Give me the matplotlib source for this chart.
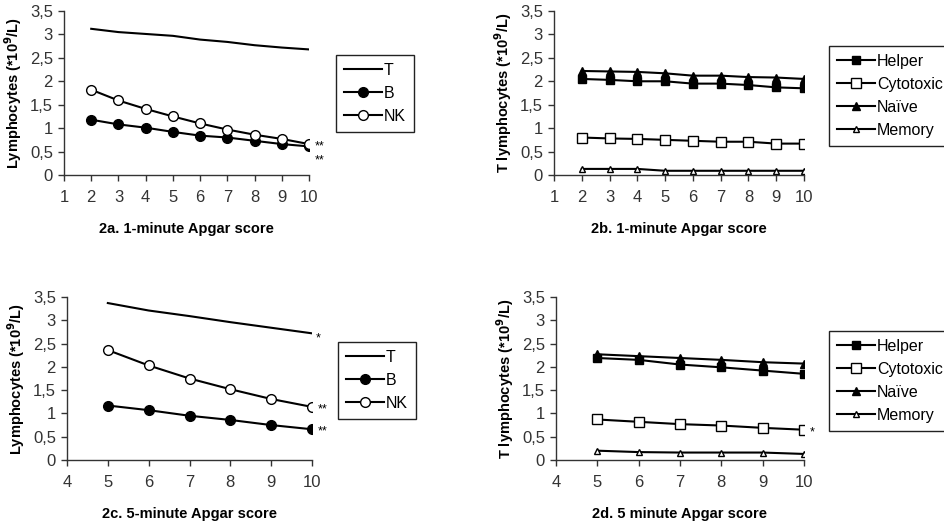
import matplotlib
matplotlib.use('Agg')
import matplotlib.pyplot as plt
from matplotlib.ticker import FuncFormatter

plt.rcParams['font.family'] = ['Liberation Sans', 'DejaVu Sans']

# 1-minute Apgar, all lymphocytes
apgar1 = [2, 3, 4, 5, 6, 7, 8, 9, 10]
t1 = [3.12, 3.05, 3.01, 2.97, 2.89, 2.84, 2.77, 2.72, 2.68]
b1 = [1.18, 1.08, 1.01, 0.92, 0.84, 0.80, 0.73, 0.66, 0.61]
nk1 = [1.82, 1.59, 1.41, 1.25, 1.10, 0.97, 0.86, 0.77, 0.66]

# 1-minute Apgar, T subsets
helper1 = [2.05, 2.03, 2.00, 2.00, 1.95, 1.95, 1.92, 1.87, 1.85]
cyto1 = [0.80, 0.78, 0.77, 0.75, 0.73, 0.71, 0.71, 0.67, 0.67]
naive1 = [2.22, 2.21, 2.20, 2.17, 2.12, 2.12, 2.09, 2.08, 2.05]
memory1 = [0.13, 0.13, 0.13, 0.09, 0.09, 0.09, 0.09, 0.09, 0.09]

# 5-minute Apgar, all lymphocytes
apgar5 = [5, 6, 7, 8, 9, 10]
t5 = [3.37, 3.21, 3.09, 2.96, 2.84, 2.72]
b5 = [1.17, 1.07, 0.95, 0.86, 0.75, 0.66]
nk5 = [2.36, 2.03, 1.75, 1.52, 1.31, 1.14]

# 5-minute Apgar, T subsets
helper5 = [2.19, 2.15, 2.05, 1.99, 1.92, 1.85]
cyto5 = [0.87, 0.82, 0.77, 0.74, 0.69, 0.65]
naive5 = [2.27, 2.23, 2.19, 2.15, 2.10, 2.07]
memory5 = [0.20, 0.17, 0.16, 0.16, 0.16, 0.13]

ylab_all = r'Lymphocytes (*10$^\mathbf{9}$/L)'
ylab_t = r'T lymphocytes (*10$^\mathbf{9}$/L)'

fig = plt.figure(figsize=(9.44, 5.22), dpi=100)

W, H = 944, 522


def px_axes(l, t, r, b):
    return fig.add_axes([l / W, 1 - b / H, (r - l) / W, (b - t) / H])


def comma(v, _):
    s = f'{v:g}'
    return s.replace('.', ',')


def style(ax, xmin, xlabel, ylabel):
    ax.set_ylim(0, 3.5)
    ax.set_xlim(xmin, 10)
    ax.set_yticks([0, 0.5, 1, 1.5, 2, 2.5, 3, 3.5])
    ax.set_xticks(range(xmin, 11))
    ax.yaxis.set_major_formatter(FuncFormatter(comma))
    for s in ['top', 'right']:
        ax.spines[s].set_visible(False)
    for s in ['left', 'bottom']:
        ax.spines[s].set_color('#333333')
        ax.spines[s].set_linewidth(1)
    ax.tick_params(direction='out', length=4, width=1, color='#333333',
                   labelsize=12, labelcolor='#333333')
    ax.tick_params(axis='x', pad=7)
    ax.tick_params(axis='y', pad=4)
    ax.set_xlabel(xlabel, fontsize=10.5, fontweight='bold', labelpad=12)
    ax.set_ylabel(ylabel, fontsize=10.5, fontweight='bold', labelpad=4)


def legend(ax, l, t):
    lg = ax.legend(loc='upper left', bbox_to_anchor=(l / W, 1 - t / H),
                   bbox_transform=fig.transFigure, borderaxespad=0,
                   fancybox=False, edgecolor='#222222', fontsize=11.5,
                   handlelength=2.4, handletextpad=0.1, labelspacing=0.5,
                   borderpad=0.5, framealpha=1)
    lg.get_frame().set_linewidth(1)


mk = dict(color='black', lw=1.5, markeredgecolor='black', markeredgewidth=1)

# 2a
ax = px_axes(64, 11, 309, 175)
ax.plot(apgar1, t1, label='T', **mk)
ax.plot(apgar1, b1, marker='o', ms=7, markerfacecolor='black', label='B', **mk)
ax.plot(apgar1, nk1, marker='o', ms=7, markerfacecolor='white', label='NK', **mk)
style(ax, 1, '2a. 1-minute Apgar score', ylab_all)
ax.text(10.2, nk1[-1] - 0.05, '**', fontsize=9, va='center', clip_on=False)
ax.text(10.2, b1[-1] - 0.3, '**', fontsize=9, va='center', clip_on=False)
legend(ax, 336, 55)

# 2b
ax = px_axes(554, 11, 804, 175)
ax.plot(apgar1, helper1, marker='s', ms=6, markerfacecolor='black', label='Helper', **mk)
ax.plot(apgar1, cyto1, marker='s', ms=7, markerfacecolor='white', label='Cytotoxic', **mk)
ax.plot(apgar1, naive1, marker='^', ms=6, markerfacecolor='black', label='Naïve', **mk)
ax.plot(apgar1, memory1, marker='^', ms=5, markerfacecolor='white', label='Memory', **mk)
style(ax, 1, '2b. 1-minute Apgar score', ylab_t)
legend(ax, 829, 46)

# 2c
ax = px_axes(67, 297, 312, 460)
ax.plot(apgar5, t5, label='T', **mk)
ax.plot(apgar5, b5, marker='o', ms=7, markerfacecolor='black', label='B', **mk)
ax.plot(apgar5, nk5, marker='o', ms=7, markerfacecolor='white', label='NK', **mk)
style(ax, 4, '2c. 5-minute Apgar score', ylab_all)
ax.text(10.1, t5[-1] - 0.1, '*', fontsize=9, va='center', clip_on=False)
ax.text(10.15, nk5[-1] - 0.05, '**', fontsize=9, va='center', clip_on=False)
ax.text(10.15, b5[-1] - 0.05, '**', fontsize=9, va='center', clip_on=False)
legend(ax, 338, 342)

# 2d
ax = px_axes(556, 297, 804, 460)
ax.plot(apgar5, helper5, marker='s', ms=6, markerfacecolor='black', label='Helper', **mk)
ax.plot(apgar5, cyto5, marker='s', ms=7, markerfacecolor='white', label='Cytotoxic', **mk)
ax.plot(apgar5, naive5, marker='^', ms=6, markerfacecolor='black', label='Naïve', **mk)
ax.plot(apgar5, memory5, marker='^', ms=5, markerfacecolor='white', label='Memory', **mk)
style(ax, 4, '2d. 5 minute Apgar score', ylab_t)
ax.text(10.15, cyto5[-1] - 0.05, '*', fontsize=9, va='center', clip_on=False)
legend(ax, 829, 331)

fig.savefig('out.png', dpi=100)
